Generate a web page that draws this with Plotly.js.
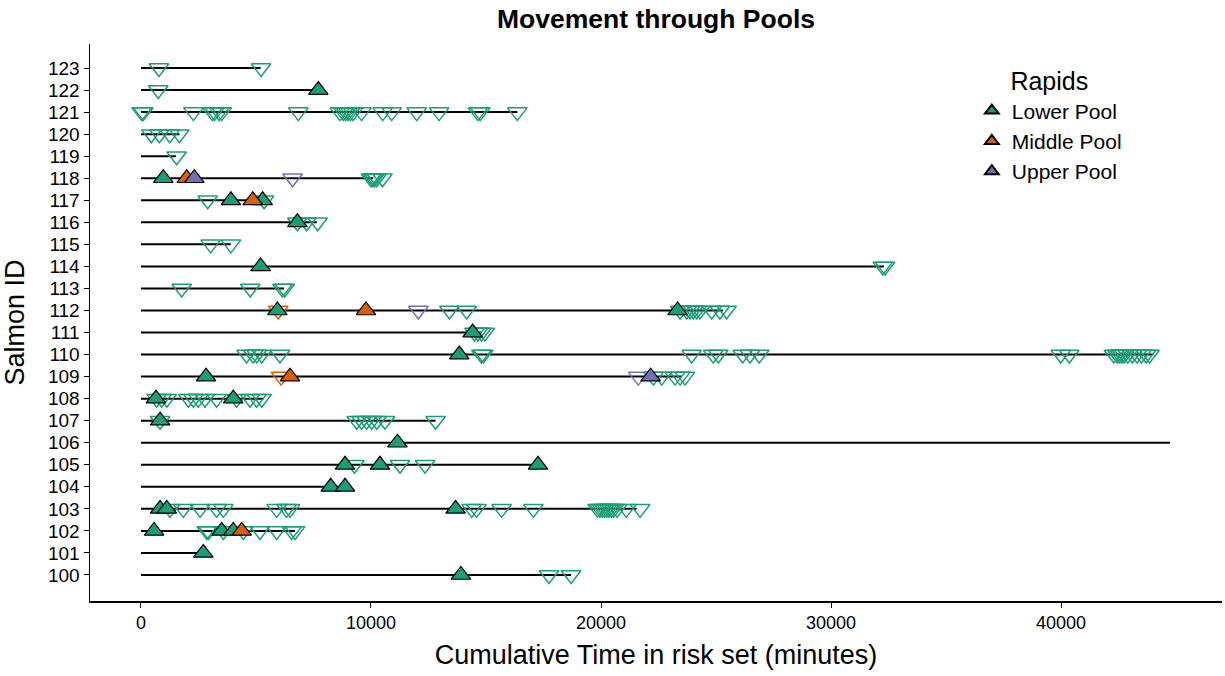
<!DOCTYPE html>
<html>
<head>
<meta charset="utf-8">
<script src="https://cdn.plot.ly/plotly-3.0.1.min.js"></script>
<style>html,body{margin:0;padding:0;background:#fff;}#chart{width:1225px;height:676px;}</style>
</head>
<body>
<div id="chart"></div>
<script>
// Fish IDs and the end of each fish's time in the risk set (minutes)
const fishIds = [100,101,102,103,104,105,106,107,108,109,110,111,112,113,114,115,116,117,118,119,120,121,122,123];
const endTime = [18700,2710,6700,21550,8870,17260,44740,12810,5320,23500,44010,14800,25300,6220,32300,3900,7640,5350,10100,1520,1670,16360,7710,5200];

// Entries into pools (filled up-triangles)
const lowerEntryId   = [122,118,117,117,116,114,112,112,111,110,109,108,108,107,106,105,105,105,104,104,103,103,103,102,102,102,101,100];
const lowerEntryTime = [7710,970,3910,5290,6800,5200,5930,23330,14420,13840,2830,650,4010,830,11150,8870,10390,17260,8250,8870,830,1120,13680,570,3510,4010,2710,13910];
const middleEntryId   = [118,117,112,109,102];
const middleEntryTime = [1990,4860,9780,6480,4380];
const upperEntryId   = [118,109];
const upperEntryTime = [2320,22160];

// Exits from pools (open down-triangles)
const lowerExitId = [
 123,123, 122,
 121,121,121,121,121,121,121,121,121,121,121,121,121,121,121,121,121,121,121,121,121,121,
 120,120,120,120, 119,
 118,118,118,118,118, 117,117, 116,116,116, 115,115, 114,114, 113,113,113,113,
 112,112,112,112,112,112,112,112,112,112,112,
 111,111,111,111,
 110,110,110,110,110,110,110,110,110,110,110,110,110,110,110,110,110,110,110,110,110,110,110,110,110,110,
 109,109,109,109,109,
 108,108,108,108,108,108,108,108,108,108,108,108,
 107,107,107,107,107,107,107,107,
 105,105,105,
 103,103,103,103,103,103,103,103,103,103,103,103,103,103,103,103,103,103,103,103,103,103,103,
 102,102,102,102,102,102,102,102,
 100,100];
const lowerExitTime = [
 780,5220, 750,
 30,100,2280,3100,3200,3400,3510,6840,8650,8800,8900,9000,9100,9220,9590,10510,10900,11990,12960,14650,14750,16360,
 450,800,1250,1670, 1550,
 10000,10080,10150,10250,10500, 2900,5350, 6800,7200,7680, 3030,3910, 32250,32350, 1770,4750,6150,6250,
 13410,14160,23440,23730,23870,24010,24160,24300,24810,25170,25460,
 14500,14650,14800,14950,
 4590,4880,5030,5250,6040,14800,14880,23940,24880,25100,26160,26480,26880,39990,40360,42300,42450,42550,42650,42750,42900,43100,43300,43500,43700,43850,
 22280,22640,23220,23440,23650,
 680,900,1120,2060,2280,2490,2780,3290,4160,4740,5030,5250,
 830,9380,9590,9810,10030,10250,10610,12810,
 9280,11260,12350,
 1260,1840,2570,3290,3580,5900,6330,6480,14380,14590,15680,17060,19850,19950,20050,20150,20250,20350,20450,20550,20700,21100,21700,
 2860,2930,3580,4450,5170,5900,6550,6700,
 17740,18700];
const middleExitId   = [112,109];
const middleExitTime = [5970,6090];
const upperExitId   = [118,112,109];
const upperExitTime = [6590,12060,21620];

const poolNames = ['Lower Pool','Middle Pool','Upper Pool'];
const poolColors = ['#1b9e77','#d95f02','#7570b3'];

// build line trace from arrays
const lx = [], ly = [];
fishIds.forEach((id, i) => { lx.push(0, endTime[i], null); ly.push(id, id, null); });

const traces = [{
  x: lx, y: ly, type: 'scatter', mode: 'lines',
  line: {color: '#000', width: 2}, showlegend: false, hoverinfo: 'skip'
}];

const exits = [[lowerExitId, lowerExitTime],[middleExitId, middleExitTime],[upperExitId, upperExitTime]];
exits.forEach((e, k) => {
  traces.push({
    x: e[1], y: e[0], type: 'scatter', mode: 'markers', showlegend: false,
    marker: {symbol: 'triangle-down-open', size: 17, color: poolColors[k], line: {width: 1.5, color: poolColors[k]}}
  });
});
const entries = [[lowerEntryId, lowerEntryTime],[middleEntryId, middleEntryTime],[upperEntryId, upperEntryTime]];
entries.forEach((e, k) => {
  traces.push({
    x: e[1], y: e[0], type: 'scatter', mode: 'markers', name: poolNames[k],
    marker: {symbol: 'triangle-up', size: 17, color: poolColors[k], line: {width: 1.2, color: '#000'}}
  });
});

const font = 'Liberation Sans, Arial, Helvetica, sans-serif';
const layout = {
  width: 1225, height: 676,
  margin: {l: 90, r: 3, t: 44, b: 75},
  paper_bgcolor: '#fff', plot_bgcolor: '#fff',
  font: {family: font, color: '#000', size: 17},
  title: {text: '<b>Movement through Pools</b>', x: 0.5355, xanchor: 'center', y: 0.973, yanchor: 'middle', font: {size: 26.5, family: font, color: '#000'}},
  xaxis: {
    range: [-2217, 47000], showgrid: false, zeroline: false,
    showline: true, linecolor: '#000', linewidth: 1.5,
    ticks: 'outside', ticklen: 5, tickcolor: '#000', tickwidth: 1,
    tickvals: [0,10000,20000,30000,40000], ticktext: ['0','10000','20000','30000','40000'],
    tickfont: {size: 18, family: font, color: '#000'},
    title: {text: 'Cumulative Time in risk set (minutes)', font: {size: 27, family: font, color: '#000'}, standoff: 13}
  },
  yaxis: {
    range: [98.82, 124.09], showgrid: false, zeroline: false,
    showline: true, linecolor: '#000', linewidth: 1.5,
    ticks: 'outside', ticklen: 5, tickcolor: '#000', tickwidth: 1,
    tickvals: fishIds, ticktext: fishIds.map(String),
    tickfont: {size: 19, family: font, color: '#000'},
    title: {text: 'Salmon ID', font: {size: 27, family: font, color: '#000'}, standoff: 16}
  },
  legend: {
    x: 0.779, y: 0.975, xanchor: 'left', yanchor: 'top',
    bgcolor: 'rgba(0,0,0,0)', font: {size: 21, family: font, color: '#000'},
    title: {text: 'Rapids', side: 'top center', font: {size: 25, family: font, color: '#000'}},
    itemsizing: 'constant'
  },
  showlegend: true
};

Plotly.newPlot('chart', traces, layout, {displayModeBar: false, staticPlot: true});
</script>
</body>
</html>
